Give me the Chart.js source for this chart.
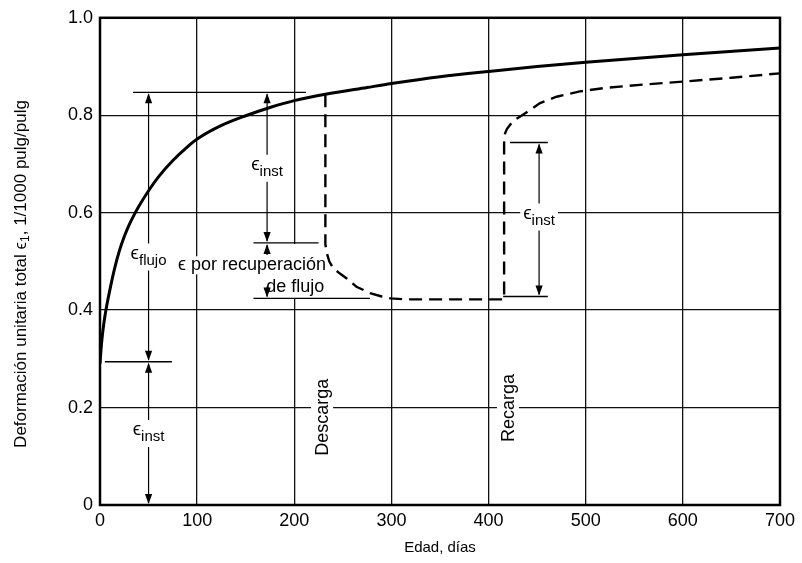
<!DOCTYPE html>
<html><head><meta charset="utf-8">
<script src="https://cdn.jsdelivr.net/npm/chart.js@4/dist/chart.umd.min.js"></script>
<style>html,body{margin:0;padding:0;background:#fff}#wrap{width:802px;height:563px}</style>
</head><body><div id="wrap"><canvas id="c" width="802" height="563"></canvas></div>
<script>
// ---- data ----
const creepDays   = [0, 1, 2, 3, 5, 7, 10, 15, 20, 25, 30, 35, 40, 50, 60, 75, 90, 100, 125, 150, 175, 200, 232, 275, 300, 350, 400, 450, 500, 600, 700];
const creepStrain = [0.29, 0.318, 0.34, 0.358, 0.387, 0.41, 0.44, 0.485, 0.522, 0.551, 0.575, 0.595, 0.613, 0.645, 0.673, 0.707, 0.735, 0.751, 0.779, 0.799, 0.816, 0.83, 0.843, 0.857, 0.865, 0.879, 0.89, 0.90, 0.909, 0.924, 0.938];
const recDays   = [232, 232, 233.5, 236, 240, 247, 254, 264, 278, 290, 299, 316, 416, 416, 417, 419, 422, 425, 428, 433, 443, 453, 470, 494, 520, 560, 600, 650, 700];
const recStrain = [0.843, 0.535, 0.517, 0.50, 0.486, 0.475, 0.465, 0.448, 0.435, 0.428, 0.424, 0.422, 0.422, 0.743, 0.763, 0.772, 0.78, 0.787, 0.792, 0.798, 0.811, 0.825, 0.838, 0.849, 0.856, 0.863, 0.869, 0.877, 0.886];
const xTicks = [0, 100, 200, 300, 400, 500, 600, 700];
const yTicks = [0, 0.2, 0.4, 0.6, 0.8, 1.0];
const yTickLabels = ['0', '0.2', '0.4', '0.6', '0.8', '1.0'];
const xTitle = 'Edad, días';
const yTitleParts = ['Deformación unitaria total ϵ', '1', ', 1/1000 pulg/pulg'];
// annotation: horizontal reference marks [dayFrom, dayTo, strain]
const markLines = [[34, 212, 0.847], [5, 74, 0.294], [158, 225, 0.538], [158, 278, 0.424], [422, 461, 0.744], [415, 461, 0.428]];
// dimension arrows
const dims = [
  {day: 50,  lo: 0.294, hi: 0.847, sub: 'flujo', at: 0.51},
  {day: 50,  lo: 0,     hi: 0.294, sub: 'inst',  at: 0.148},
  {day: 172, lo: 0.538, hi: 0.847, sub: 'inst',  at: 0.692},
  {day: 172, lo: 0.424, hi: 0.538, stub: 12},
  {day: 452, lo: 0.428, hi: 0.744, sub: 'inst',  at: 0.592}
];
const recoveryText = [['ϵ por recuperación', 156.5, 0.492], ['de flujo', 201, 0.447]];
const rotatedText = [['Descarga', 228.6, 0.18], ['Recarga', 420, 0.199]];

const FONT = '"Liberation Sans", Arial, Helvetica, "DejaVu Sans", sans-serif';
const pts = (xs, ys) => xs.map((x, i) => ({x, y: ys[i]}));

function head(ctx, x, yTip, dir) {
  const L = 10, W = 3.6;
  ctx.beginPath(); ctx.moveTo(x, yTip);
  ctx.lineTo(x - W, yTip - dir * L); ctx.lineTo(x + W, yTip - dir * L);
  ctx.closePath(); ctx.fill();
}
function epsMetrics(ctx, sub) {
  ctx.font = '19px ' + FONT; const wE = ctx.measureText('ϵ').width;
  ctx.font = '15px ' + FONT; const wS = ctx.measureText(sub).width;
  return {wE, wS, w: wE + wS};
}

const annot = {
  id: 'annot',
  beforeDatasetsDraw(chart) {
    const {ctx, chartArea: a, scales: {x, y}} = chart;
    const X = v => x.getPixelForValue(v), Y = v => y.getPixelForValue(v);
    ctx.save();
    // white gaps in grid behind texts
    ctx.fillStyle = '#fff';
    dims.forEach(d => {
      if (!d.sub) return;
      const m = epsMetrics(ctx, d.sub);
      const cx = X(d.day), cy = Y(d.at);
      ctx.fillRect(cx - m.w / 2 - 3, cy - 12, m.w + 6, 26);
    });
    ctx.font = '18px ' + FONT;
    recoveryText.forEach(([t, dd, v]) => {
      const w = ctx.measureText(t).width;
      ctx.fillRect(X(dd) - w / 2 - 3, Y(v) - 9, w + 6, 18);
    });
    ctx.fillRect(X(200) - 2, Y(0.538) + 1, 4, Y(0.424) - Y(0.538) - 1);
    rotatedText.forEach(([t, dd, v]) => {
      const w = ctx.measureText(t).width;
      ctx.fillRect(X(dd) - 11, Y(v) - w / 2 - 3, 22, w + 6);
    });
    // frame
    ctx.strokeStyle = '#000'; ctx.lineWidth = 2.5;
    ctx.strokeRect(a.left, a.top, a.right - a.left, a.bottom - a.top);
    // marker lines
    ctx.lineWidth = 1.3; ctx.strokeStyle = '#000'; ctx.fillStyle = '#000';
    markLines.forEach(([d0, d1, v]) => {
      ctx.beginPath(); ctx.moveTo(X(d0), Y(v)); ctx.lineTo(X(d1), Y(v)); ctx.stroke();
    });
    // dimension arrows
    ctx.lineWidth = 1.2;
    dims.forEach(d => {
      const cx = X(d.day), yt = Y(d.hi), yb = Y(d.lo);
      let g0, g1;
      if (d.sub) { const cy = Y(d.at); g0 = cy - 13; g1 = cy + 14; }
      else { g0 = yt + d.stub; g1 = yb - d.stub; }
      ctx.beginPath(); ctx.moveTo(cx, yt + 2); ctx.lineTo(cx, g0);
      ctx.moveTo(cx, g1); ctx.lineTo(cx, yb - 2); ctx.stroke();
      head(ctx, cx, yt + 1, -1); head(ctx, cx, yb - 1, 1);
    });
    // eps labels
    ctx.textAlign = 'left'; ctx.textBaseline = 'alphabetic';
    dims.forEach(d => {
      if (!d.sub) return;
      const m = epsMetrics(ctx, d.sub);
      const x0 = X(d.day) - m.w / 2, cy = Y(d.at);
      ctx.font = '19px ' + FONT; ctx.fillText('ϵ', x0, cy + 2);
      ctx.font = '15px ' + FONT; ctx.fillText(d.sub, x0 + m.wE, cy + 8);
    });
    ctx.font = '18px ' + FONT; ctx.textAlign = 'center'; ctx.textBaseline = 'middle';
    recoveryText.forEach(([t, dd, v]) => ctx.fillText(t, X(dd), Y(v)));
    rotatedText.forEach(([t, dd, v]) => {
      ctx.save(); ctx.translate(X(dd), Y(v)); ctx.rotate(-Math.PI / 2);
      ctx.fillText(t, 0, 1); ctx.restore();
    });
    ctx.restore();
  },
  afterDraw(chart) {
    const ctx = chart.ctx;
    ctx.save();
    ctx.translate(21, 274); ctx.rotate(-Math.PI / 2);
    ctx.fillStyle = '#000'; ctx.textBaseline = 'middle'; ctx.textAlign = 'left';
    const f1 = '17px ' + FONT, f2 = '12px ' + FONT;
    ctx.font = f1; const w0 = ctx.measureText(yTitleParts[0]).width, w2 = ctx.measureText(yTitleParts[2]).width;
    ctx.font = f2; const w1 = ctx.measureText(yTitleParts[1]).width;
    let x0 = -(w0 + w1 + w2) / 2;
    ctx.font = f1; ctx.fillText(yTitleParts[0], x0, 0);
    ctx.font = f2; ctx.fillText(yTitleParts[1], x0 + w0, 5);
    ctx.font = f1; ctx.fillText(yTitleParts[2], x0 + w0 + w1, 0);
    ctx.restore();
  }
};

new Chart(document.getElementById('c'), {
  type: 'line',
  data: {datasets: [
    {label: 'Carga sostenida', data: pts(creepDays, creepStrain), borderColor: '#000', borderWidth: 3,
     pointRadius: 0, cubicInterpolationMode: 'monotone', fill: false},
    {label: 'Descarga y recarga', data: pts(recDays, recStrain), borderColor: '#000', borderWidth: 2.4,
     borderDash: [13, 7], pointRadius: 0, tension: 0, fill: false}
  ]},
  options: {
    responsive: false, animation: false, devicePixelRatio: 1,
    layout: {padding: {top: 17, right: 22, left: 0, bottom: 0}},
    plugins: {legend: {display: false}, tooltip: {enabled: false}},
    scales: {
      x: {type: 'linear', min: 0, max: 700,
        afterBuildTicks(s) { s.ticks = xTicks.map(v => ({value: v})); },
        afterFit(s) { s.height = 58; },
        ticks: {color: '#000', font: {family: FONT, size: 18}, padding: 5, maxRotation: 0, autoSkip: false},
        grid: {color: '#111', lineWidth: 1.3, drawTicks: false},
        border: {display: false},
        title: {display: true, text: xTitle, color: '#000', font: {family: FONT, size: 15}, padding: {top: 0, bottom: 6}}
      },
      y: {type: 'linear', min: 0, max: 1,
        afterBuildTicks(s) { s.ticks = yTicks.map(v => ({value: v})); },
        afterFit(s) { s.width = 100; },
        ticks: {color: '#000', font: {family: FONT, size: 18}, padding: 7,
          callback: (v) => yTickLabels[yTicks.indexOf(v)]},
        grid: {color: '#111', lineWidth: 1.3, drawTicks: false},
        border: {display: false}
      }
    }
  },
  plugins: [annot]
});
</script></body></html>
